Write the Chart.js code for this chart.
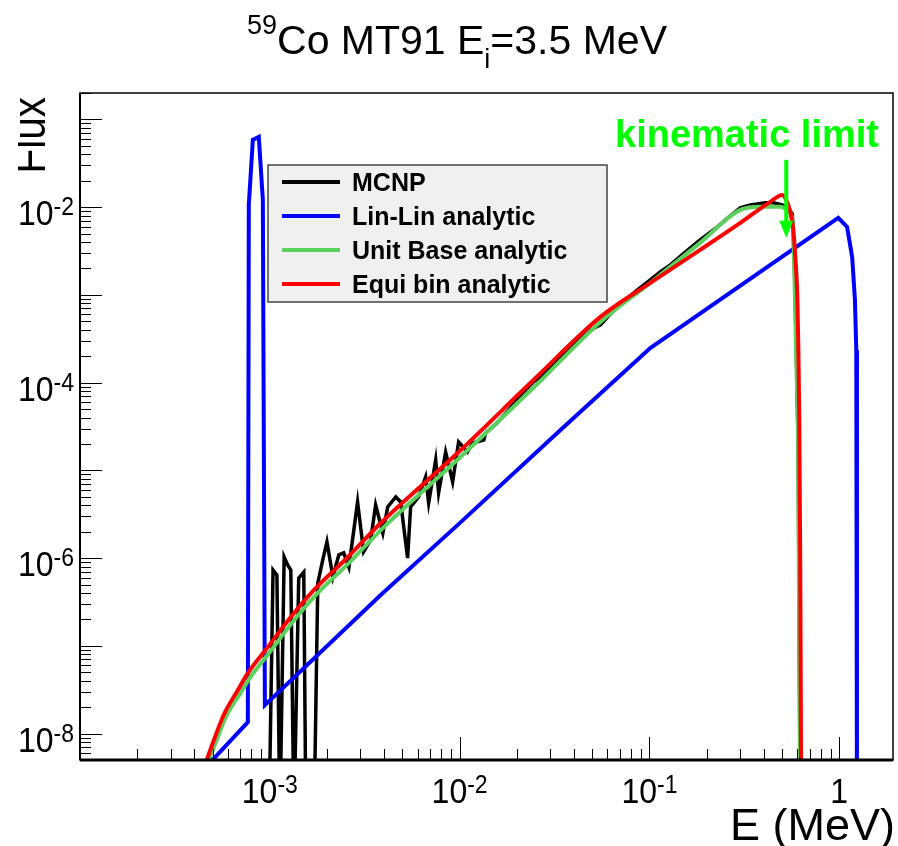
<!doctype html>
<html>
  <head>
    <meta charset="utf-8" />
    <title>59Co MT91 Ei=3.5 MeV</title>
    <script src="https://cdn.jsdelivr.net/npm/chart.js@4.4.1/dist/chart.umd.min.js"></script>
    <style>
      html, body { margin: 0; padding: 0; background: #fff; }
      canvas { display: block; }
    </style>
  </head>
  <body>
    <canvas id="flux" width="898" height="846"></canvas>
    <script>
      // values (E in MeV)
      const mcnpE = [9.9e-4, 1.04e-3, 1.09e-3, 1.13e-3, 1.19e-3, 1.24e-3, 1.29e-3, 1.34e-3, 1.42e-3, 1.51e-3,
        1.55e-3, 1.71e-3, 1.79e-3, 1.90e-3, 2.0e-3, 2.15e-3, 2.31e-3, 2.45e-3, 2.61e-3, 2.90e-3,
        3.12e-3, 3.40e-3, 3.61e-3, 3.94e-3, 4.18e-3, 4.61e-3, 4.89e-3, 5.32e-3, 5.52e-3, 6.08e-3,
        6.62e-3, 6.87e-3, 7.48e-3, 7.75e-3, 8.44e-3, 9.19e-3, 9.88e-3, 1.10e-2, 1.17e-2, 1.34e-2,
        1.37e-2, 1.58e-2, 1.85e-2, 2.15e-2, 2.45e-2, 2.84e-2, 3.24e-2, 3.70e-2, 4.34e-2, 4.89e-2,
        5.52e-2, 6.38e-2, 7.48e-2, 8.65e-2, 0.101, 0.114, 0.129, 0.155, 0.185, 0.228,
        0.267, 0.301, 0.340, 0.370, 0.408, 0.450, 0.501, 0.539, 0.566, 0.580, 0.594, 0.608, 0.623];
      const mcnpFlux = [1e-9, 7.3e-7, 6.4e-7, 1e-9, 1.03e-6, 8.4e-7, 7.3e-7, 1e-9, 5.9e-7, 6.9e-7,
        1e-9, 1e-9, 5.2e-7, 9.5e-7, 1.53e-6, 6.1e-7, 1.09e-6, 1.15e-6, 7.9e-7, 4.37e-6,
        1.18e-6, 1.61e-6, 4.03e-6, 1.93e-6, 3.83e-6, 4.98e-6, 4.37e-6, 1.0e-6, 3.83e-6, 4.98e-6,
        8.4e-6, 4.26e-6, 1.31e-5, 5.52e-6, 1.62e-5, 7.4e-6, 2.11e-5, 1.62e-5, 2.05e-5, 2.22e-5,
        2.67e-5, 3.48e-5, 5.15e-5, 7.63e-5, 1.02e-4, 1.29e-4, 1.82e-4, 2.24e-4, 3.24e-4, 3.99e-4,
        4.55e-4, 6.40e-4, 8.77e-4, 1.14e-3, 1.48e-3, 1.83e-3, 2.20e-3, 3.09e-3, 4.24e-3, 5.96e-3,
        7.96e-3, 9.82e-3, 1.06e-2, 1.09e-2, 1.12e-2, 1.12e-2, 1.06e-2, 9.8e-3, 8.4e-3, 2.5e-3, 2.36e-4, 1.71e-5, 1e-9];

      const linE = [4.72e-4, 7.66e-4, 7.75e-4, 8.14e-4, 8.75e-4, 9.19e-4, 9.42e-4, 3.84e-3, 9.88e-3,
        3.40e-2, 0.101, 0.988, 1.10, 1.17, 1.21, 1.23, 1.24];
      const linFlux = [4.4e-9, 1.35e-8, 1.06e-2, 5.85e-2, 6.33e-2, 1.21e-2, 2.11e-8, 3.8e-7, 2.44e-6,
        2.88e-5, 2.48e-4, 7.53e-3, 5.95e-3, 2.70e-3, 8.75e-4, 2.36e-4, 1e-9];

      const unitE = [4.72e-4, 5.2e-4, 5.86e-4, 6.95e-4, 7.85e-4, 1.0e-3, 1.32e-3, 1.75e-3, 2.64e-3,
        3.94e-3, 1.01e-2, 2.51e-2, 5.52e-2, 0.101, 0.185, 0.301, 0.384, 0.489, 0.539, 0.566, 0.580, 0.594, 0.608, 0.623];
      const unitFlux = [4.73e-9, 8.0e-9, 1.54e-8, 2.82e-8, 4.3e-8, 8.5e-8, 1.87e-7, 3.8e-7, 9.0e-7,
        2.2e-6, 1.42e-5, 9.2e-5, 4.92e-4, 1.37e-3, 3.92e-3, 9.3e-3, 1.01e-2, 1.01e-2, 9.1e-3, 7.2e-3, 1.93e-3, 1.82e-4, 1.3e-5, 1e-9];

      const equiE = [4.61e-4, 5.07e-4, 5.73e-4, 6.79e-4, 7.66e-4, 9.76e-4, 1.29e-3, 1.71e-3, 2.58e-3,
        3.84e-3, 9.88e-3, 2.45e-2, 5.52e-2, 0.101, 0.185, 0.301, 0.433, 0.501, 0.526, 0.552,
        0.573, 0.586, 0.601, 0.608, 0.616, 0.623, 0.631];
      const equiFlux = [4.73e-9, 8.4e-9, 1.65e-8, 3.14e-8, 4.90e-8, 9.7e-8, 2.13e-7, 4.34e-7, 1.03e-6,
        2.51e-6, 1.62e-5, 1.07e-4, 5.61e-4, 1.37e-3, 3.26e-3, 6.62e-3, 1.15e-2, 1.38e-2, 1.21e-2, 8.8e-3,
        5.5e-3, 2.86e-3, 1.0e-3, 3.07e-4, 3.75e-5, 9.5e-7, 1e-9];

      const xRange = [1e-4, 1.92];
      const yRange = [5e-9, 0.2];
      const xTickLabels = [[1e-3, '10', '-3'], [1e-2, '10', '-2'], [1e-1, '10', '-1'], [1, '1', '']];
      const yTickLabels = [[1e-2, '10', '-2'], [1e-4, '10', '-4'], [1e-6, '10', '-6'], [1e-8, '10', '-8']];
      const kinLimit = { e: 0.526, top: 0.0346, tip: 4.47e-3 };

      const FONT = '"Liberation Sans", Arial, Helvetica, sans-serif';

      function pts(xs, ys) {
        return xs.map((x, i) => ({ x: x, y: ys[i] }));
      }

      function line(ctx, x1, y1, x2, y2) {
        ctx.beginPath();
        ctx.moveTo(x1, y1);
        ctx.lineTo(x2, y2);
        ctx.stroke();
      }

      // "10" with a raised exponent, a little taller than the plain font like ROOT draws it
      function drawPow(ctx, x, y, base, exp, align, size, expSize) {
        ctx.font = size + 'px ' + FONT;
        const wb = ctx.measureText(base).width;
        ctx.font = expSize + 'px ' + FONT;
        const we = exp ? ctx.measureText(exp).width : 0;
        const total = wb + we;
        const x0 = align === 'center' ? x - total / 2 : (align === 'right' ? x - total : x);
        ctx.save();
        ctx.translate(x0, y);
        ctx.scale(1, 1.12);
        ctx.textAlign = 'left';
        ctx.textBaseline = 'alphabetic';
        ctx.font = size + 'px ' + FONT;
        ctx.fillText(base, 0, 0);
        if (exp) {
          ctx.font = expSize + 'px ' + FONT;
          ctx.fillText(exp, wb, -size * 0.28);
        }
        ctx.restore();
      }

      const rootStyle = {
        id: 'rootStyle',
        afterDatasetsDraw(chart) {
          const ctx = chart.ctx;
          const xs = chart.scales.x, ys = chart.scales.y;
          const a = chart.chartArea;
          ctx.save();

          // ticks (inside the frame)
          ctx.strokeStyle = '#000';
          ctx.lineWidth = 1;
          for (let d = -4; d <= 0; d++) {
            for (let k = 1; k <= 9; k++) {
              const v = k * Math.pow(10, d);
              if (v < xRange[0] * 0.999 || v > xRange[1]) continue;
              const px = Math.round(xs.getPixelForValue(v)) + 0.5;
              line(ctx, px, a.bottom, px, a.bottom - (k === 1 ? 23 : 11));
            }
          }
          for (let d = -9; d <= -1; d++) {
            for (let k = 1; k <= 9; k++) {
              const v = k * Math.pow(10, d);
              if (v < yRange[0] * 0.999 || v > yRange[1] * 1.001) continue;
              const py = Math.round(ys.getPixelForValue(v)) + 0.5;
              line(ctx, a.left, py, a.left + (k === 1 ? 22 : 11), py);
            }
          }

          // frame
          ctx.lineWidth = 1.5;
          ctx.strokeRect(a.left, a.top, a.right - a.left, a.bottom - a.top);
          ctx.lineWidth = 3;
          line(ctx, a.left, a.bottom, a.right, a.bottom);
          ctx.lineWidth = 2;
          line(ctx, a.left, a.top, a.left, a.bottom);

          // tick labels
          ctx.fillStyle = '#000';
          xTickLabels.forEach(([v, b, e]) => {
            drawPow(ctx, xs.getPixelForValue(v), 803, b, e, 'center', 32, 23);
          });
          yTickLabels.forEach(([v, b, e]) => {
            drawPow(ctx, 74, ys.getPixelForValue(v) + 18, b, e, 'right', 32, 23);
          });

          // axis titles
          ctx.font = '45px ' + FONT;
          ctx.textAlign = 'right';
          ctx.fillText('E (MeV)', 895, 840);

          ctx.save();
          ctx.beginPath();
          ctx.rect(18, 0, 80, 846);
          ctx.clip();
          ctx.translate(45, 97);
          ctx.rotate(-Math.PI / 2);
          ctx.scale(0.88, 1);
          ctx.font = '46px ' + FONT;
          ctx.textAlign = 'right';
          ctx.fillText('Flux', 0, 0);
          ctx.restore();

          // title
          const parts = [['59', 27, -20], ['Co MT91 E', 41, 0], ['i', 27, 14], ['=3.5 MeV', 41, 0]];
          let tw = 0;
          parts.forEach(p => { ctx.font = p[1] + 'px ' + FONT; tw += ctx.measureText(p[0]).width; });
          let tx = 457 - tw / 2;
          ctx.textAlign = 'left';
          parts.forEach(p => {
            ctx.font = p[1] + 'px ' + FONT;
            ctx.fillText(p[0], tx, 54 + p[2]);
            tx += ctx.measureText(p[0]).width;
          });

          // legend
          const lx = 268, ly = 165, lw = 339, lh = 137;
          ctx.fillStyle = '#f0f0f0';
          ctx.fillRect(lx, ly, lw, lh);
          ctx.strokeStyle = '#444';
          ctx.lineWidth = 1.5;
          ctx.strokeRect(lx, ly, lw, lh);
          ctx.font = 'bold 25px ' + FONT;
          ctx.textAlign = 'left';
          chart.data.datasets.forEach((ds, i) => {
            const cy = 182 + i * 34;
            ctx.strokeStyle = ds.borderColor;
            ctx.lineWidth = 4;
            line(ctx, 282, cy, 340, cy);
            ctx.fillStyle = '#000';
            ctx.fillText(ds.label, 352, cy + 9);
          });

          // kinematic limit annotation
          const kx = xs.getPixelForValue(kinLimit.e);
          const kTop = ys.getPixelForValue(kinLimit.top);
          const kTip = ys.getPixelForValue(kinLimit.tip);
          ctx.strokeStyle = '#00ff00';
          ctx.fillStyle = '#00ff00';
          ctx.lineWidth = 4;
          line(ctx, kx, kTop, kx, kTip - 14);
          ctx.beginPath();
          ctx.moveTo(kx - 7, kTip - 17);
          ctx.lineTo(kx + 7, kTip - 17);
          ctx.lineTo(kx, kTip);
          ctx.closePath();
          ctx.fill();
          ctx.font = 'bold 38px ' + FONT;
          ctx.textAlign = 'left';
          ctx.fillText('kinematic limit', 615, 147);

          ctx.restore();
        }
      };

      const lineDefaults = { showLine: true, pointRadius: 0, borderWidth: 4, tension: 0, clip: 0 };

      new Chart(document.getElementById('flux'), {
        type: 'scatter',
        data: {
          datasets: [
            Object.assign({ label: 'MCNP', data: pts(mcnpE, mcnpFlux), borderColor: '#000000', order: 3 }, lineDefaults, { borderWidth: 3.5 }),
            Object.assign({ label: 'Lin-Lin analytic', data: pts(linE, linFlux), borderColor: '#0000ff', order: 2 }, lineDefaults),
            Object.assign({ label: 'Unit Base analytic', data: pts(unitE, unitFlux), borderColor: '#5cd05c', order: 1 }, lineDefaults, { cubicInterpolationMode: 'monotone' }),
            Object.assign({ label: 'Equi bin analytic', data: pts(equiE, equiFlux), borderColor: '#ff0000', order: 0 }, lineDefaults, { cubicInterpolationMode: 'monotone' }),
          ]
        },
        options: {
          responsive: false,
          animation: false,
          layout: { padding: { left: 80, top: 93, right: 5, bottom: 86 } },
          scales: {
            x: { type: 'logarithmic', min: xRange[0], max: xRange[1], display: false },
            y: { type: 'logarithmic', min: yRange[0], max: yRange[1], display: false }
          },
          plugins: {
            legend: { display: false },
            tooltip: { enabled: false }
          }
        },
        plugins: [rootStyle]
      });
    </script>
  </body>
</html>
